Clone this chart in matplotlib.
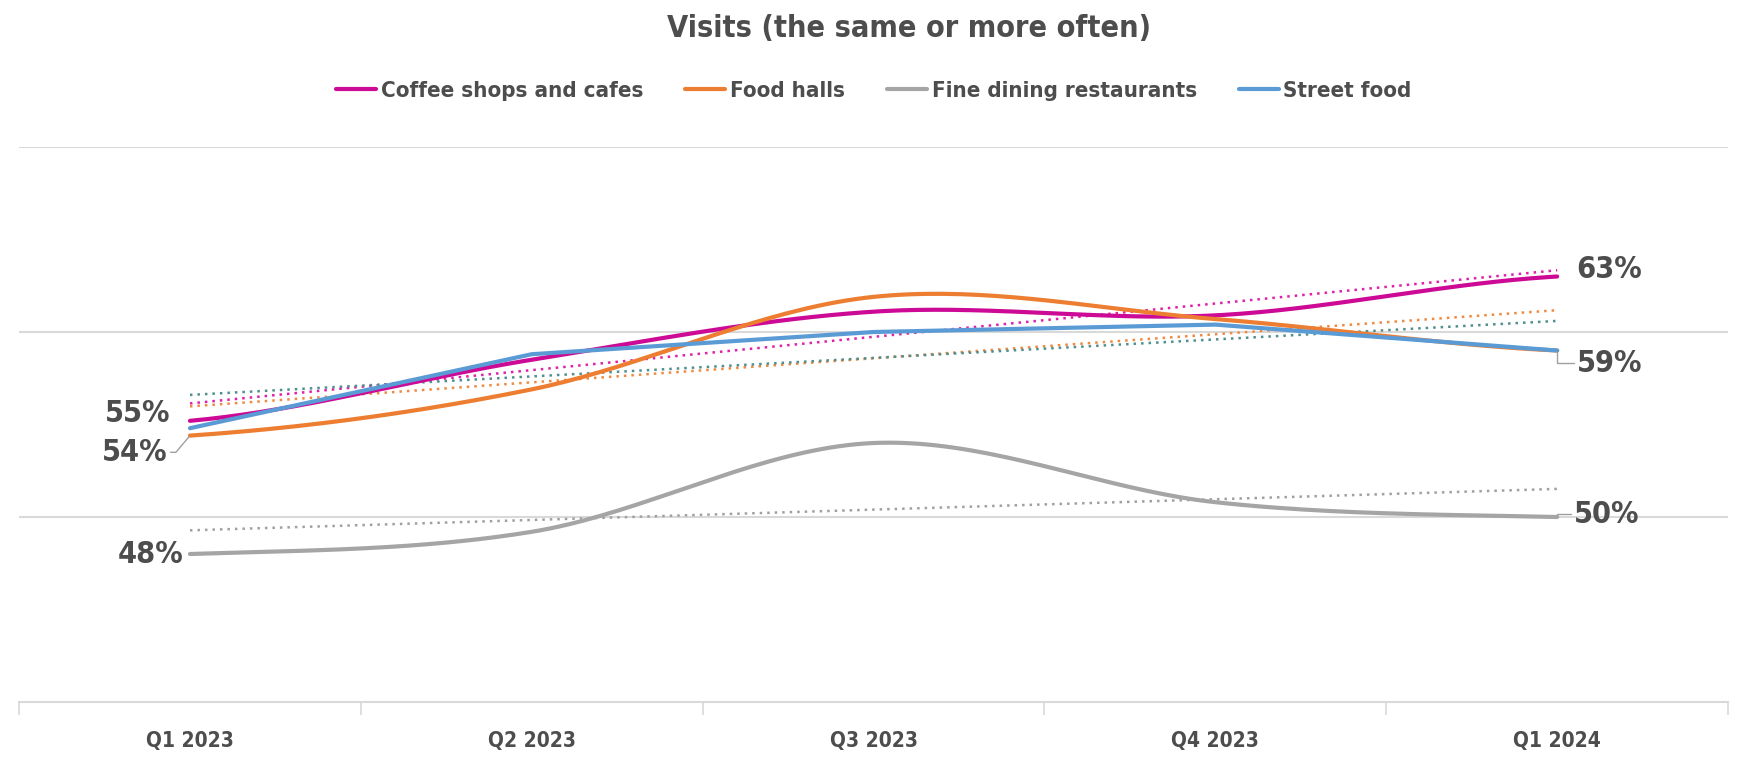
import numpy as np
import matplotlib
matplotlib.use("Agg")
import matplotlib.pyplot as plt

# data (% visiting the same or more often)
quarters = ["Q1 2023", "Q2 2023", "Q3 2023", "Q4 2023", "Q1 2024"]
coffee = [55.2, 58.5, 61.1, 60.9, 63.0]
food_halls = [54.4, 56.9, 61.9, 60.7, 59.0]
fine_dining = [48.0, 49.2, 54.0, 50.8, 50.0]
street_food = [54.8, 58.8, 60.0, 60.4, 59.0]

names = ["Coffee shops and cafes", "Food halls", "Fine dining restaurants", "Street food"]
colors = ["#CC0A96", "#ED7D31", "#A5A5A5", "#5B9BD5"]
trend_colors = ["#E020A8", "#F08A40", "#A0A0A0", "#4F8F8F"]
smooth = [True, True, True, False]

plt.rcParams['font.family'] = ['DejaVu Sans']
plt.rcParams['font.stretch'] = 'condensed'
txt = "#4D4D4D"


# excel-like smoothing (catmull-rom through the points)
def catmull(x, y, n=40):
    x = np.asarray(x, float)
    y = np.asarray(y, float)
    p = np.concatenate([[y[0]], y, [y[-1]]])
    xs, ys = [], []
    for i in range(len(y) - 1):
        t = np.linspace(0, 1, n)
        p0, p1, p2, p3 = p[i], p[i + 1], p[i + 2], p[i + 3]
        seg = 0.5 * ((2 * p1) + (-p0 + p2) * t + (2 * p0 - 5 * p1 + 4 * p2 - p3) * t ** 2
                     + (-p0 + 3 * p1 - 3 * p2 + p3) * t ** 3)
        xs.append(x[i] + t * (x[i + 1] - x[i]))
        ys.append(seg)
    return np.concatenate(xs), np.concatenate(ys)


fig = plt.figure(figsize=(17.48, 7.59), dpi=100)
ax = fig.add_axes([0.0109, 0.0751, 0.9777, 0.7312])

x = np.arange(len(quarters))
series = [coffee, food_halls, fine_dining, street_food]

for vals, name, c, tc, sm in zip(series, names, colors, trend_colors, smooth):
    if sm:
        sx, sy = catmull(x, vals)
    else:
        sx, sy = x, np.asarray(vals)
    ax.plot(sx, sy, color=c, lw=3.0, label=name, solid_capstyle='round', zorder=3)
    k, b = np.polyfit(x, vals, 1)
    ax.plot(x, k * x + b, color=tc, lw=1.8, linestyle=(0, (1, 2)), zorder=2)

ax.set_xlim(-0.5, 4.5)
ax.set_ylim(40, 70)
ax.set_yticks([50, 60, 70])
ax.yaxis.grid(True, color="#D9D9D9", lw=1.5)
ax.tick_params(axis='y', length=0, labelleft=False)
ax.set_axisbelow(True)
for s in ["top", "left", "right"]:
    ax.spines[s].set_visible(False)
ax.spines["bottom"].set_color("#D9D9D9")
ax.spines["bottom"].set_linewidth(1.5)

ax.set_xticks(np.arange(-0.5, 5, 1.0))
ax.set_xticklabels([])
ax.tick_params(axis='x', which='major', length=9, width=1.2, color="#D9D9D9")
ax.set_xticks(x, minor=True)
ax.set_xticklabels(quarters, minor=True, fontsize=15, fontweight='bold', color=txt)
ax.tick_params(axis='x', which='minor', length=0, pad=21)

# end labels
lab_kw = dict(fontsize=22, fontweight='bold', color=txt, va='center')
ax.annotate("55%", (0, coffee[0]), xytext=(-14, 5), textcoords='offset points', ha='right', **lab_kw)
ax.annotate("54%", (0, food_halls[0]), xytext=(-16, -12), textcoords='offset points', ha='right',
            arrowprops=dict(arrowstyle='-', color='#A0A0A0', lw=1, shrinkA=0, shrinkB=1,
                            connectionstyle='angle,angleA=0,angleB=50,rad=0'), **lab_kw)
ax.annotate("48%", (0, fine_dining[0]), xytext=(-5, 0), textcoords='offset points', ha='right', **lab_kw)
ax.annotate("63%", (4, coffee[-1]), xytext=(14, 5), textcoords='offset points', ha='left', **lab_kw)
ax.annotate("59%", (4, street_food[-1]), xytext=(14, -9), textcoords='offset points', ha='left',
            arrowprops=dict(arrowstyle='-', color='#A0A0A0', lw=1, shrinkA=0, shrinkB=1,
                            connectionstyle='angle,angleA=0,angleB=90,rad=0'), **lab_kw)
ax.annotate("50%", (4, fine_dining[-1]), xytext=(12, 2), textcoords='offset points', ha='left',
            arrowprops=dict(arrowstyle='-', color='#A0A0A0', lw=1, shrinkA=0, shrinkB=1,
                            connectionstyle='angle,angleA=0,angleB=90,rad=0'), **lab_kw)

fig.text(0.52, 0.963, "Visits (the same or more often)", ha='center', va='center',
         fontsize=22, fontweight='bold', color=txt)
fig.legend(loc='center', bbox_to_anchor=(0.5, 0.88), ncol=4, frameon=False,
           handlelength=1.8, handletextpad=0.2, columnspacing=1.9,
           prop=dict(size=16, weight='bold', stretch='condensed'), labelcolor=txt)

fig.savefig("out.png", dpi=100)
